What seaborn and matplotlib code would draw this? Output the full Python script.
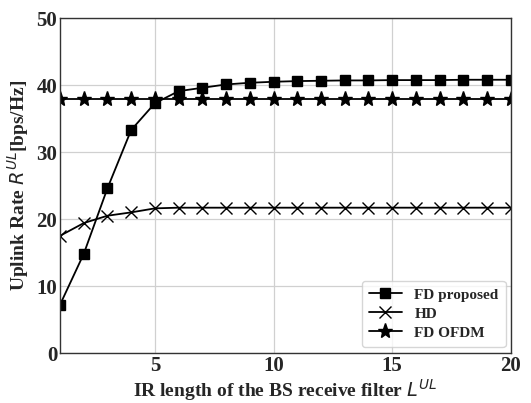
import matplotlib
matplotlib.use("Agg")
import matplotlib.pyplot as plt
import seaborn as sns
import pandas as pd

L = list(range(1, 21))
fd_proposed = [7.2, 14.8, 24.6, 33.3, 37.3, 39.1, 39.6, 40.1, 40.35, 40.5,
               40.6, 40.65, 40.7, 40.7, 40.75, 40.75, 40.75, 40.8, 40.8, 40.8]
hd = [17.5, 19.4, 20.5, 21.0, 21.6, 21.7, 21.7, 21.7, 21.7, 21.7,
      21.7, 21.7, 21.7, 21.7, 21.7, 21.7, 21.7, 21.7, 21.7, 21.7]
fd_ofdm = [37.9] * 20
series_names = ['FD proposed', 'HD', 'FD OFDM']

df = pd.DataFrame({
    'L': L * 3,
    'rate': fd_proposed + hd + fd_ofdm,
    'scheme': [series_names[0]] * 20 + [series_names[1]] * 20 + [series_names[2]] * 20,
})

sns.set_style("whitegrid")
plt.rcParams['font.family'] = ['Liberation Serif', 'DejaVu Serif']
plt.rcParams['mathtext.fontset'] = 'dejavusans'

fig = plt.figure(figsize=(5.31, 4.03), dpi=100)
ax = fig.add_axes([0.113, 0.124, 0.849, 0.831])

for name, mk, ms, mew in [('FD proposed', 's', 7.5, 1.0), ('HD', 'x', 9, 1.0), ('FD OFDM', '*', 11, 1.0)]:
    sub = df[df['scheme'] == name]
    sns.lineplot(data=sub, x='L', y='rate', ax=ax, color='black', label=name,
                 linewidth=1.3, linestyle='-', marker=mk, markersize=ms,
                 markeredgewidth=mew, markeredgecolor='black', markerfacecolor='black',
                 dashes=False)

ax.set_xlim(1, 20)
ax.set_ylim(0, 50)
ax.set_xticks([5, 10, 15, 20])
ax.set_yticks([0, 10, 20, 30, 40, 50])
ax.grid(True, color='#d0d0d0', linewidth=0.9)
for s in ax.spines.values():
    s.set_color('#333333')
    s.set_linewidth(1.0)
ax.tick_params(axis='both', labelsize=15, length=0, pad=2)
for lbl in ax.get_xticklabels() + ax.get_yticklabels():
    lbl.set_fontweight('bold')

ax.set_xlabel(r'IR length of the BS receive filter $L^{UL}$', fontsize=14, fontweight='bold', labelpad=1)
ax.set_ylabel(r'Uplink Rate $R^{UL}$[bps/Hz]', fontsize=14, fontweight='bold', labelpad=4)

leg = ax.legend(loc='lower right', prop={'weight': 'bold', 'size': 11},
                frameon=True, fancybox=True, handlelength=2.2, borderpad=0.45,
                labelspacing=0.35, bbox_to_anchor=(0.995, 0.01), borderaxespad=0.2)
leg.get_frame().set_edgecolor('#cccccc')

fig.savefig('out.png', dpi=100)
